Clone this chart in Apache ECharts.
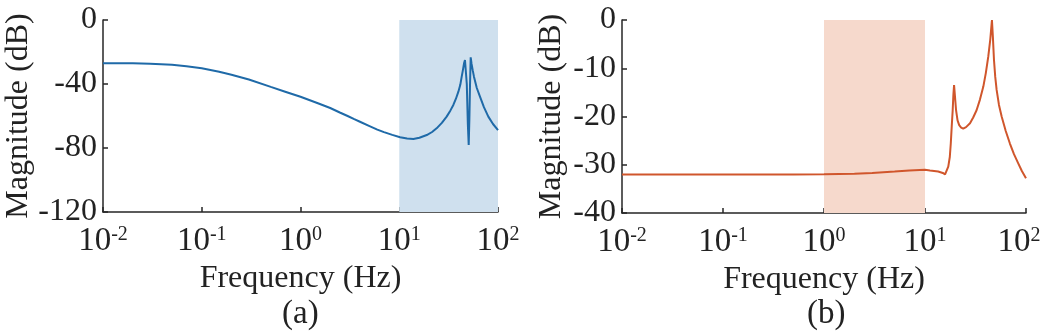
<!DOCTYPE html>
<html>
<head>
<meta charset="utf-8">
<script src="https://cdn.jsdelivr.net/npm/echarts@6/dist/echarts.min.js"></script>
<style>
html,body{margin:0;padding:0;background:#fff;}
#c{width:1041px;height:335px;}
</style>
</head>
<body>
<div id="c"></div>
<script>
// ---- data (a) ----
const freqA = [0.01,0.02,0.03,0.05,0.07,0.1,0.15,0.2,0.3,0.5,0.7,1,1.5,2,2.5,3,3.5,4,5,6,7,8.5,10.2,12,13.9,16,19,21.5,23.9,27,30.2,33,35.3,37.5,39.7,41.5,42.9,44.2,45.3,46.3,47.1,48.3,49.5,50.5,51.3,52.1,52.9,54,55.5,57.1,61,65.7,72,79.8,89,100];
const magA  = [-27,-27.1,-27.3,-28,-28.9,-30.2,-32.3,-34.2,-37.2,-41.8,-44.8,-48,-52,-55,-57.8,-60,-62,-63.6,-66.3,-68.5,-70.1,-71.8,-73.3,-74.1,-74.4,-73.6,-71.9,-70,-67.7,-64.3,-60.4,-56.5,-53.1,-49.2,-44.8,-40.5,-35.4,-31,-27.1,-25,-24,-40,-65,-78.1,-62,-40,-23.3,-27.5,-31.5,-35.4,-42.5,-47.9,-54.5,-60.4,-65,-68.8];
// ---- data (b) ----
const freqB = [0.01,0.1,0.5,1,2,3,5,7,10,11.2,13.5,15,15.8,16.4,17,17.6,18,18.4,18.8,19.1,19.4,19.8,20.3,21,21.8,22.8,23.9,25.5,27.9,30,32.4,35,37.8,40,42.3,44.3,46,47,48.2,49.6,51.2,54,57.4,63,69.3,76,83.8,91,100];
const magB  = [-32,-32,-32,-31.95,-31.85,-31.7,-31.4,-31.2,-31.05,-31.2,-31.4,-31.7,-32,-31.6,-30.4,-28.4,-25.6,-22,-18.7,-15.5,-13.5,-15.8,-18.7,-20.8,-21.8,-22.3,-22.5,-22.2,-21.4,-20.2,-18.7,-16.5,-13.8,-11,-7.6,-4,0,-3.5,-8.3,-11.8,-14.5,-17.6,-20,-23,-25.6,-27.8,-29.7,-31.3,-32.8];
// ---- shaded bands (Hz) ----
const shadeA = [10, 100];
const shadeB = [1, 10];
// ---- axes ----
const xRange = [0.01, 100];
const yRangeA = [-120, 0], yTickA = 40;
const yRangeB = [-40, 0], yTickB = 10;
const xName = 'Frequency (Hz)';
const yName = 'Magnitude (dB)';
const panelLabels = ['(a)', '(b)'];

const FONT = '"Liberation Serif","Times New Roman",serif';
const TXT = '#222';
const AX = '#262626';

const chart = echarts.init(document.getElementById('c'), null, {renderer:'canvas'});

function xAxisCfg(gi){
  return {
    type:'log', logBase:10, gridIndex:gi, min:xRange[0], max:xRange[1],
    name:xName, nameLocation:'middle', nameGap:50,
    nameTextStyle:{fontFamily:FONT, fontSize:32, color:TXT},
    axisLine:{show:true, onZero:false, lineStyle:{color:AX, width:1.5}},
    axisTick:{show:true, inside:true, length:5, lineStyle:{color:AX, width:1.5}},
    minorTick:{show:false}, splitLine:{show:false},
    axisLabel:{
      margin:13, showMinLabel:true, showMaxLabel:true,
      formatter:function(v){
        const e=Math.round(Math.log10(v));
        const pad = (gi===1 && v>=xRange[1]) ? '{p|}' : '';
        return '{b|10}{s|'+e+'}'+pad;
      },
      rich:{
        b:{fontFamily:FONT, fontSize:33, color:TXT, lineHeight:33},
        s:{fontFamily:FONT, fontSize:20, color:TXT, verticalAlign:'top', lineHeight:20},
        p:{width:14, height:1}
      }
    }
  };
}
function yAxisCfg(gi, r, t, gap){
  return {
    type:'value', gridIndex:gi, min:r[0], max:r[1], interval:t,
    name:yName, nameLocation:'middle', nameGap:gap, nameRotate:90,
    nameTextStyle:{fontFamily:FONT, fontSize:32, color:TXT},
    axisLine:{show:true, onZero:false, lineStyle:{color:AX, width:1.5}},
    axisTick:{show:true, inside:true, length:5, lineStyle:{color:AX, width:1.5}},
    splitLine:{show:false},
    axisLabel:{fontFamily:FONT, fontSize:32, color:TXT, margin:6}
  };
}

chart.setOption({
  animation:false,
  grid:[
    {left:103, right:543, top:20, bottom:123, outerBoundsMode:'none', containLabel:false},
    {left:622, right:15, top:20, bottom:122, outerBoundsMode:'none', containLabel:false}
  ],
  xAxis:[xAxisCfg(0), xAxisCfg(1)],
  yAxis:[yAxisCfg(0, yRangeA, yTickA, 67), yAxisCfg(1, yRangeB, yTickB, 54)],
  graphic:[
    {type:'text', left:282, top:298, style:{text:panelLabels[0], font:'33px '+FONT, fill:TXT}},
    {type:'text', left:807, top:298, style:{text:panelLabels[1], font:'33px '+FONT, fill:TXT}}
  ],
  series:[
    {
      type:'line', xAxisIndex:0, yAxisIndex:0, showSymbol:false, smooth:false,
      data:freqA.map((f,i)=>[f, magA[i]]),
      lineStyle:{color:'#1f6aa8', width:2}, itemStyle:{color:'#1f6aa8'},
      markArea:{silent:true, itemStyle:{color:'#cfe0ee'}, data:[[{xAxis:shadeA[0]},{xAxis:shadeA[1]}]]}
    },
    {
      type:'line', xAxisIndex:1, yAxisIndex:1, showSymbol:false, smooth:false,
      data:freqB.map((f,i)=>[f, magB[i]]),
      lineStyle:{color:'#d0562c', width:2}, itemStyle:{color:'#d0562c'},
      markArea:{silent:true, itemStyle:{color:'#f6d9cc'}, data:[[{xAxis:shadeB[0]},{xAxis:shadeB[1]}]]}
    }
  ]
});
</script>
</body>
</html>
